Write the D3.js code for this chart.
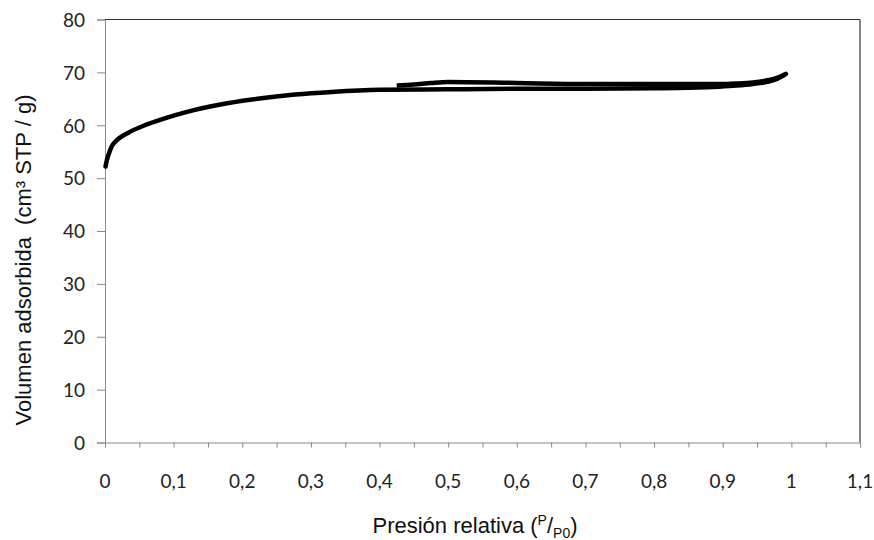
<!DOCTYPE html>
<html><head><meta charset="utf-8">
<script src="https://cdn.jsdelivr.net/npm/d3@7"></script>
<style>body{margin:0;background:#fff}</style>
</head><body>
<svg id="c" width="874" height="540"></svg>
<script>
const xTicks = [0,0.1,0.2,0.3,0.4,0.5,0.6,0.7,0.8,0.9,1,1.1];
const xTickLabels = ["0","0,1","0,2","0,3","0,4","0,5","0,6","0,7","0,8","0,9","1","1,1"];
const yTicks = [0,10,20,30,40,50,60,70,80];
const adsP = [0.0008,0.0025,0.0048,0.0097,0.015,0.022,0.034,0.058,0.0825,0.105,0.131,0.155,0.18,0.228,0.277,0.33,0.4,0.5,0.6,0.7,0.8,0.85,0.895,0.92,0.944,0.965,0.98,0.992];
const adsV = [52.2,53.3,54.3,56.0,56.9,57.7,58.6,60.0,61.1,62.0,62.9,63.6,64.2,65.1,65.8,66.3,66.7,66.8,66.9,66.9,67.0,67.1,67.3,67.5,67.8,68.2,68.8,69.7];
const desP = [0.425,0.45,0.475,0.5,0.6,0.7,0.8,0.895,0.92,0.944,0.965,0.98,0.992];
const desV = [67.5,67.7,68.0,68.2,68.0,67.8,67.8,67.8,67.9,68.1,68.5,69.0,69.7];

const svg = d3.select("#c");
const L=105, R=860, T=19.5, B=442.5;
const x = d3.scaleLinear().domain([0,1.1]).range([L,R]);
const y = d3.scaleLinear().domain([0,80]).range([B,T]);

// frame
svg.append("line").attr("x1",L).attr("x2",R).attr("y1",T).attr("y2",T).attr("stroke","#333").attr("stroke-width",1.2);
svg.append("line").attr("x1",R).attr("x2",R).attr("y1",T).attr("y2",B).attr("stroke","#333").attr("stroke-width",1.2);

const xAxis = d3.axisBottom(x).tickValues(d3.range(0,23).map(i=>i*0.05)).tickSize(5).tickFormat("");
const gx = svg.append("g").attr("transform",`translate(0,${B})`).call(xAxis);
gx.select(".domain").attr("stroke","#888");
gx.selectAll(".tick line").attr("stroke","#888");

const yAxis = d3.axisLeft(y).tickValues(yTicks).tickSize(8).tickFormat(d=>d);
const gy = svg.append("g").attr("transform",`translate(${L},0)`).call(yAxis);
gy.select(".domain").attr("stroke","#888");
gy.selectAll(".tick line").attr("stroke","#888");
gy.selectAll(".tick text").attr("x",-20).attr("dy","0.36em").attr("font-family","Lato, 'Open Sans', sans-serif").attr("font-size",19).attr("fill","#222");

svg.append("g").selectAll("text").data(xTicks).join("text")
  .attr("x",d=>x(d)).attr("y",488).attr("text-anchor","middle")
  .attr("font-family","Lato, 'Open Sans', sans-serif").attr("font-size",19).attr("fill","#222")
  .text((d,i)=>xTickLabels[i]);

const line = d3.line().x(d=>x(d[0])).y(d=>y(d[1])).curve(d3.curveMonotoneX);
svg.append("path").datum(adsP.map((p,i)=>[p,adsV[i]])).attr("d",line)
  .attr("fill","none").attr("stroke","#000").attr("stroke-width",4.5).attr("stroke-linecap","round");
svg.append("path").datum(desP.map((p,i)=>[p,desV[i]])).attr("d",line)
  .attr("fill","none").attr("stroke","#000").attr("stroke-width",4.5).attr("stroke-linecap","butt");

// titles
const xt = svg.append("text").attr("x",475).attr("y",533).attr("text-anchor","middle")
  .attr("font-family","'Liberation Sans', Arial, sans-serif").attr("font-size",22).attr("fill","#111");
xt.append("tspan").text("Presión relativa (");
xt.append("tspan").attr("font-size",14).attr("dy",-8).text("P");
xt.append("tspan").attr("dy",8).text("/");
xt.append("tspan").attr("font-size",14).attr("dy",5).text("P0");
xt.append("tspan").attr("dy",-5).text(")");

svg.append("text").attr("transform","translate(31,260) rotate(-90)").attr("text-anchor","middle")
  .attr("font-family","'Liberation Sans', Arial, sans-serif").attr("font-size",22).attr("fill","#111")
  .attr("xml:space","preserve")
  .text("Volumen adsorbida  (cm³ STP / g)");
</script>
</body></html>
